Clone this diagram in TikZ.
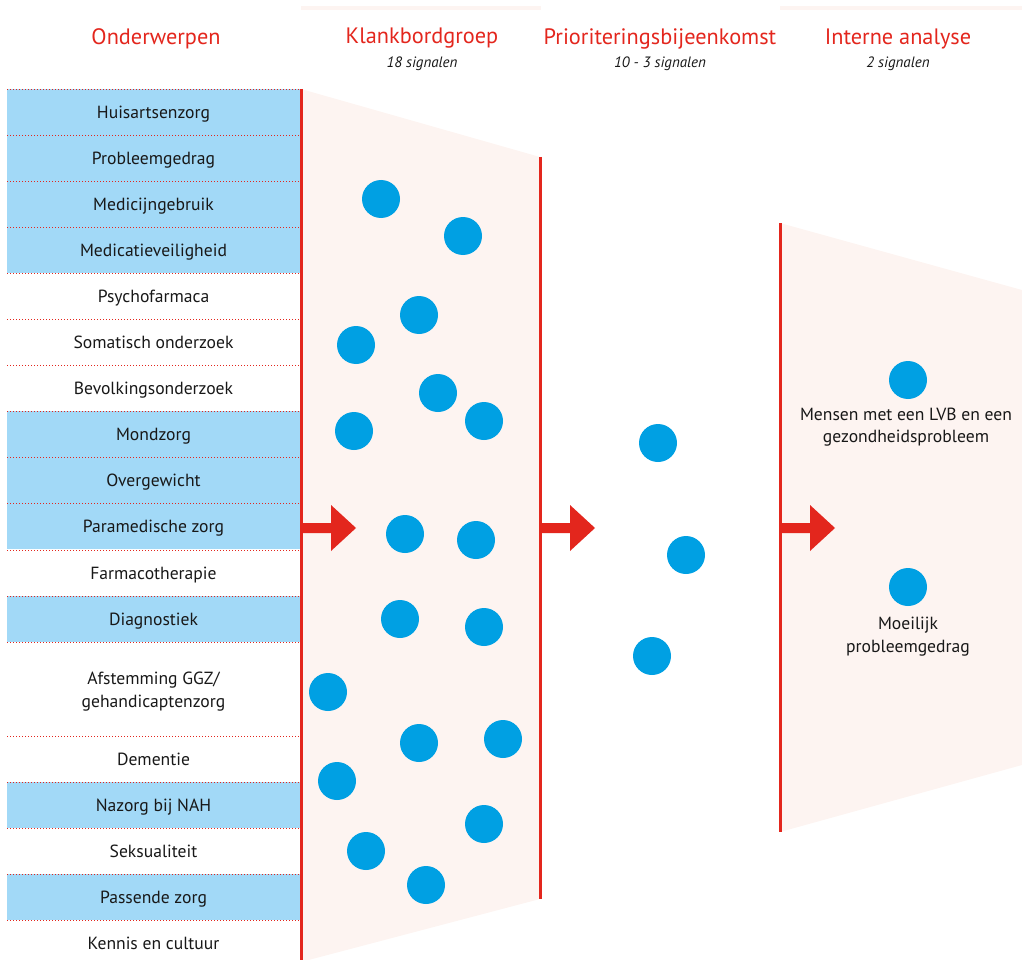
\documentclass[tikz,border=0pt]{standalone}
\usepackage{fontspec}
\setmainfont{PT Sans}
\definecolor{rred}{RGB}{227,38,29}
\definecolor{rowblue}{RGB}{162,217,247}
\definecolor{dotblue}{RGB}{0,160,227}
\definecolor{funnelpink}{RGB}{253,244,241}
\definecolor{txt}{RGB}{24,24,24}
\begin{document}
\begin{tikzpicture}[x=1pt,y=-1pt,
  rowbase/.style={minimum width=293pt, minimum height=46pt, inner sep=0pt, outer sep=0pt,
    anchor=north west, font=\fontsize{17.6}{22.5}\selectfont, text=txt, align=center},
  rowbox/.style={rowbase, text height=14.5pt, text depth=1.5pt},
  bluerow/.style={rowbox, fill=rowblue},
  sepline/.style={rred, line width=0.9pt, dash pattern=on 1pt off 2pt},
  sig/.style={circle, fill=dotblue, minimum size=38pt, inner sep=0pt},
  head/.style={font=\fontsize{22.3}{24}\selectfont, text=rred},
  sub/.style={font=\itshape\fontsize{15}{17}\selectfont, text=txt},
  lab/.style={font=\fontsize{17.6}{22.5}\selectfont, text=txt, align=center, inner sep=0pt},
  redline/.style={rred, line width=3pt},
  arrowshape/.style={fill=rred},
  stripe/.style={fill=funnelpink}
  ]
\useasboundingbox (0,0) rectangle (1022,960);

% top stripes
\fill[stripe] (301,6) rectangle (541,9.6);
\fill[stripe] (780,6) rectangle (1022,9.6);

% funnels
\fill[funnelpink] (301,89) -- (540,157) -- (540,899) -- (301,962) -- cycle;
\fill[funnelpink] (780,223) -- (1022,290) -- (1022,765) -- (780,832) -- cycle;

% headers
\node[head] (h1) at (156,38.5) {Onderwerpen};
\node[head] (h2) at (422,38.5) {Klankbordgroep};
\node[sub]  (s2) at (422,63.5) {18 signalen};
\node[head] (h3) at (660,38.5) {Prioriteringsbijeenkomst};
\node[sub]  (s3) at (660,63.5) {10 - 3 signalen};
\node[head] (h4) at (898,38.5) {Interne analyse};
\node[sub]  (s4) at (898,63.5) {2 signalen};

% rows
\node[bluerow] (r1)  at (7,89)  {Huisartsenzorg};
\node[bluerow] (r2)  at (7,135) {Probleemgedrag};
\node[bluerow] (r3)  at (7,181) {Medicijngebruik};
\node[bluerow] (r4)  at (7,227) {Medicatieveiligheid};
\node[rowbox]  (r5)  at (7,273) {Psychofarmaca};
\node[rowbox]  (r6)  at (7,319) {Somatisch onderzoek};
\node[rowbox]  (r7)  at (7,365) {Bevolkingsonderzoek};
\node[bluerow] (r8)  at (7,411) {Mondzorg};
\node[bluerow] (r9)  at (7,457) {Overgewicht};
\node[bluerow] (r10) at (7,503) {Paramedische zorg};
\node[rowbox]  (r11) at (7,550) {Farmacotherapie};
\node[bluerow] (r12) at (7,596) {Diagnostiek};
\node[rowbase, minimum height=94pt] (r13) at (7,642) {\rule{0pt}{18pt}Afstemming GGZ/\\gehandicaptenzorg};
\node[rowbox]  (r14) at (7,736) {Dementie};
\node[bluerow] (r15) at (7,782) {Nazorg bij NAH};
\node[rowbox]  (r16) at (7,828) {Seksualiteit};
\node[bluerow] (r17) at (7,874) {Passende zorg};
\node[rowbox]  (r18) at (7,920) {Kennis en cultuur};

\foreach \r in {r1,r2,r3,r4,r5,r6,r7,r8,r9,r10,r11,r12,r13,r14,r15,r16,r17,r18}
  \draw[sepline] (\r.north west) -- (\r.north east);

% red lines
\coordinate (l1a) at (301,89);  \coordinate (l1b) at (301,960);
\coordinate (l2a) at (540,157); \coordinate (l2b) at (540,899);
\coordinate (l3a) at (780,223); \coordinate (l3b) at (780,832);
\draw[redline] (l1a) -- (l1b);
\draw[redline] (l2a) -- (l2b);
\draw[redline] (l3a) -- (l3b);

% arrows
\foreach \x in {301,540,780}{
  \fill[arrowshape] (\x,523) -- ++(30,0) -- ++(0,-18) -- ++(25,23) -- ++(-25,23) -- ++(0,-18) -- ++(-30,0) -- cycle;
}

% signals klankbordgroep
\node[sig] (k1)  at (381,199) {};
\node[sig] (k2)  at (463,236) {};
\node[sig] (k3)  at (419,315) {};
\node[sig] (k4)  at (356,345) {};
\node[sig] (k5)  at (438,393) {};
\node[sig] (k6)  at (484,421) {};
\node[sig] (k7)  at (354,431) {};
\node[sig] (k8)  at (405,534) {};
\node[sig] (k9)  at (476,540) {};
\node[sig] (k10) at (400,619) {};
\node[sig] (k11) at (484,627) {};
\node[sig] (k12) at (328,692) {};
\node[sig] (k13) at (419,743) {};
\node[sig] (k14) at (503,739) {};
\node[sig] (k15) at (337,781) {};
\node[sig] (k16) at (484,824) {};
\node[sig] (k17) at (366,851) {};
\node[sig] (k18) at (426,885) {};

% signals prioritering
\node[sig] (p1) at (658,443) {};
\node[sig] (p2) at (686,555) {};
\node[sig] (p3) at (652,656) {};

% signals interne analyse
\node[sig] (i1) at (908,380) {};
\node[sig] (i2) at (908,587) {};
\node[lab] (t1) at (906,427) {Mensen met een LVB en een\\gezondheidsprobleem};
\node[lab] (t2) at (908,636.5) {Moeilijk\\probleemgedrag};
\end{tikzpicture}
\end{document}
